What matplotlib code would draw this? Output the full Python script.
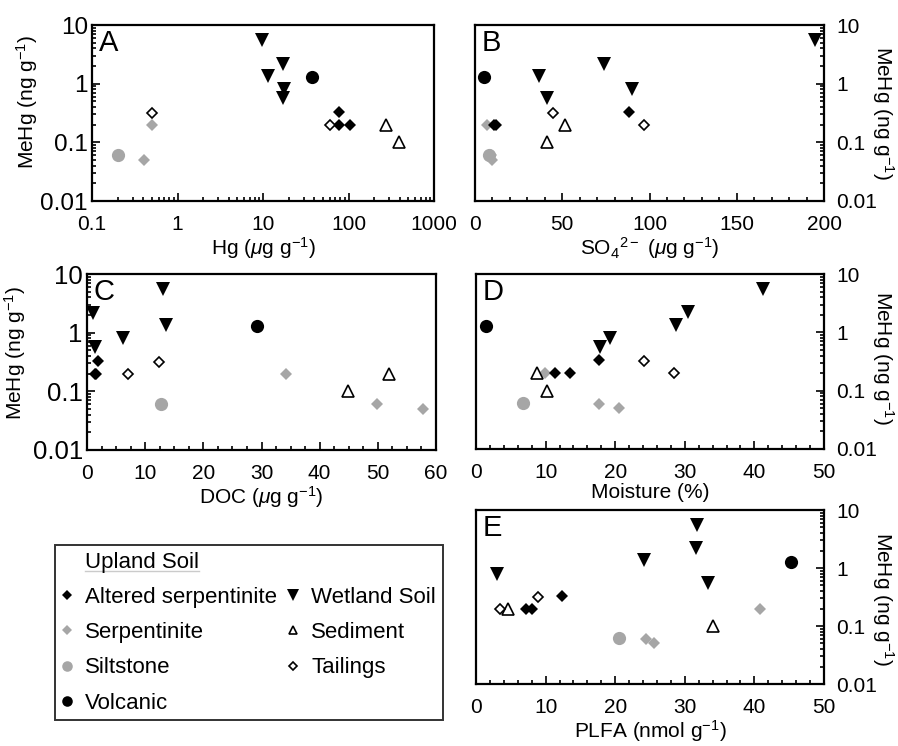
import matplotlib
matplotlib.use("Agg")
import matplotlib.pyplot as plt
from matplotlib.lines import Line2D
from matplotlib.ticker import LogLocator, NullFormatter, FixedLocator, FixedFormatter, MultipleLocator

plt.rcParams['font.family'] = ['Liberation Sans', 'DejaVu Sans']
plt.rcParams['mathtext.fontset'] = 'custom'
plt.rcParams['mathtext.rm'] = 'Liberation Sans'
plt.rcParams['mathtext.it'] = 'Liberation Sans:italic'
plt.rcParams['mathtext.bf'] = 'Liberation Sans:bold'

# ---- data (MeHg in ng/g; x variables per panel) ----
wet_mehg = [5.5, 2.2, 1.35, 0.8, 0.56]
wet_hg = [9.7, 17, 11.4, 17.8, 17]
wet_so4 = [195, 74, 36.7, 90, 41.5]
wet_doc = [13.0, 1.0, 13.6, 6.2, 1.4]
wet_moist = [41.3, 30.4, 28.7, 19.3, 17.8]
wet_plfa = [31.7, 31.6, 24.1, 3.0, 33.4]

vol_mehg = [1.28]
vol_hg = [37]
vol_so4 = [5.3]
vol_doc = [29.3]
vol_moist = [1.4]
vol_plfa = [45.3]

alt_mehg = [0.33, 0.2, 0.2]
alt_hg = [78, 78, 104]
alt_so4 = [88, 11.8, 11]
alt_doc = [1.9, 1.4, 1.6]
alt_moist = [17.7, 11.3, 13.5]
alt_plfa = [12.3, 7.2, 8.1]

tai_mehg = [0.32, 0.2]
tai_hg = [0.5, 61]
tai_so4 = [44.5, 97]
tai_doc = [12.3, 7.0]
tai_moist = [24.1, 28.4]
tai_plfa = [8.9, 3.4]

ser_mehg = [0.2, 0.06, 0.05]
ser_hg = [0.5, 0.2, 0.41]
ser_so4 = [6.7, 9.0, 9.5]
ser_doc = [34.2, 49.8, 57.7]
ser_moist = [9.9, 17.7, 20.5]
ser_plfa = [40.8, 24.4, 25.6]

sil_mehg = [0.061]
sil_hg = [0.2]
sil_so4 = [8.0]
sil_doc = [12.8]
sil_moist = [6.7]
sil_plfa = [20.5]

sed_mehg = [0.2, 0.1]
sed_hg = [275, 394]
sed_so4 = [51.8, 41.5]
sed_doc = [52, 44.8]
sed_moist = [8.8, 10.2]
sed_plfa = [4.6, 34.1]

y_ticks = [0.01, 0.1, 1, 10]
y_ticklabels = ['0.01', '0.1', '1', '10']
hg_ticks = [0.1, 1, 10, 100, 1000]
hg_ticklabels = ['0.1', '1', '10', '100', '1000']

GRAY = '#a6a6a6'
styles = {
    'ser': dict(marker='D', ms=6.2, mfc=GRAY, mec=GRAY, mew=0),
    'sil': dict(marker='o', ms=9.5, mfc=GRAY, mec=GRAY, mew=0),
    'alt': dict(marker='D', ms=6.2, mfc='black', mec='black', mew=0),
    'vol': dict(marker='o', ms=9.5, mfc='black', mec='black', mew=0),
    'wet': dict(marker='v', ms=10.5, mfc='black', mec='black', mew=0),
    'sed': dict(marker='^', ms=8, mfc='white', mec='black', mew=1.2),
    'tai': dict(marker='D', ms=5.6, mfc='white', mec='black', mew=1.2),
}

FS = 15
fig = plt.figure(figsize=(8.98, 7.46), dpi=100)

W, H = 898.0, 746.0
def add_ax(l, r, t, b):
    return fig.add_axes([l / W, 1 - b / H, (r - l) / W, (b - t) / H])

axA = add_ax(92, 434, 25, 201)
axB = add_ax(475, 824, 25, 201)
axC = add_ax(87, 436, 274, 450)
axD = add_ax(476, 824, 274, 449)
axE = add_ax(476, 824, 510, 684)

# (axis, letter, x key, x label, y side, y tick label size, ylabel x / y pos in axes coords)
panels = [
    (axA, 'A', 'hg', r'Hg ($\mu$g g$^{-1}$)', 'left', 17.5, -0.19, 0.56),
    (axB, 'B', 'so4', r'SO$_4{}^{2-}$ ($\mu$g g$^{-1}$)', 'right', FS, 1.17, 0.5),
    (axC, 'C', 'doc', r'DOC ($\mu$g g$^{-1}$)', 'left', 18.5, -0.205, 0.55),
    (axD, 'D', 'moist', 'Moisture (%)', 'right', FS, 1.17, 0.52),
    (axE, 'E', 'plfa', r'PLFA (nmol g$^{-1}$)', 'right', FS, 1.17, 0.49),
]

groups = [
    ('ser', ser_mehg, dict(hg=ser_hg, so4=ser_so4, doc=ser_doc, moist=ser_moist, plfa=ser_plfa)),
    ('sil', sil_mehg, dict(hg=sil_hg, so4=sil_so4, doc=sil_doc, moist=sil_moist, plfa=sil_plfa)),
    ('sed', sed_mehg, dict(hg=sed_hg, so4=sed_so4, doc=sed_doc, moist=sed_moist, plfa=sed_plfa)),
    ('alt', alt_mehg, dict(hg=alt_hg, so4=alt_so4, doc=alt_doc, moist=alt_moist, plfa=alt_plfa)),
    ('vol', vol_mehg, dict(hg=vol_hg, so4=vol_so4, doc=vol_doc, moist=vol_moist, plfa=vol_plfa)),
    ('wet', wet_mehg, dict(hg=wet_hg, so4=wet_so4, doc=wet_doc, moist=wet_moist, plfa=wet_plfa)),
    ('tai', tai_mehg, dict(hg=tai_hg, so4=tai_so4, doc=tai_doc, moist=tai_moist, plfa=tai_plfa)),
]

xcfg = {
    'hg': dict(lim=(0.1, 1000)),
    'so4': dict(lim=(0, 200), major=50, minor=10),
    'doc': dict(lim=(0, 60), major=10, minor=2.5),
    'moist': dict(lim=(0, 50), major=10, minor=2),
    'plfa': dict(lim=(0, 50), major=10, minor=2),
}

for ax, letter, key, xlabel, yside, ytfs, ylx, yly in panels:
    for name, yv, xd in groups:
        ax.plot(xd[key], yv, linestyle='none', clip_on=False, zorder=3, **styles[name])
    ax.set_yscale('log')
    ax.set_ylim(0.01, 10)
    ax.yaxis.set_major_locator(FixedLocator(y_ticks))
    ax.yaxis.set_major_formatter(FixedFormatter(y_ticklabels))
    ax.yaxis.set_minor_locator(LogLocator(base=10, subs=range(2, 10)))
    ax.yaxis.set_minor_formatter(NullFormatter())
    cfg = xcfg[key]
    ax.set_xlim(*cfg['lim'])
    if key == 'hg':
        ax.set_xscale('log')
        ax.xaxis.set_major_locator(FixedLocator(hg_ticks))
        ax.xaxis.set_major_formatter(FixedFormatter(hg_ticklabels))
        ax.xaxis.set_minor_locator(LogLocator(base=10, subs=range(2, 10)))
        ax.xaxis.set_minor_formatter(NullFormatter())
    else:
        ax.xaxis.set_major_locator(MultipleLocator(cfg['major']))
        ax.xaxis.set_minor_locator(MultipleLocator(cfg['minor']))
    for s in ax.spines.values():
        s.set_linewidth(1.6)
    ax.tick_params(which='both', direction='in', labelsize=FS, width=1.2)
    ax.tick_params(which='major', length=6)
    ax.tick_params(which='minor', length=3)
    ax.tick_params(axis='x', which='both', top=False, pad=10)
    if yside == 'left':
        ax.tick_params(axis='y', which='both', right=False, left=True, pad=3, labelsize=ytfs)
        ax.set_ylabel(r'MeHg (ng g$^{-1}$)', fontsize=FS, rotation=90, ha='center', va='center')
    else:
        ax.yaxis.tick_right()
        ax.yaxis.set_label_position('right')
        ax.tick_params(axis='y', which='both', left=False, right=True, pad=9, labelsize=ytfs)
        ax.set_ylabel(r'MeHg (ng g$^{-1}$)', fontsize=FS, rotation=270, ha='center', va='center')
    ax.yaxis.set_label_coords(ylx, yly)
    ax.set_xlabel(xlabel, fontsize=FS, labelpad=1)
    ax.text(0.02, 0.975, letter, transform=ax.transAxes, fontsize=21, va='top', ha='left')

# ---- legend ----
blank = Line2D([], [], linestyle='none', marker=None)
def h(name):
    return Line2D([], [], linestyle='none', **styles[name])
leg_handles = [blank, h('alt'), h('ser'), h('sil'), h('vol'),
               blank, h('wet'), h('sed'), h('tai'), blank]
leg_labels = ['Upland Soil', 'Altered serpentinite', 'Serpentinite', 'Siltstone', 'Volcanic',
              '', 'Wetland Soil', 'Sediment', 'Tailings', '']
leg = fig.legend(leg_handles, leg_labels, ncol=2, loc='upper left',
                 bbox_to_anchor=(55 / W, 1 - 545 / H), bbox_transform=fig.transFigure,
                 fontsize=16, frameon=True, fancybox=False, borderaxespad=0,
                 handlelength=0.45, handletextpad=0.6, columnspacing=0.5,
                 labelspacing=0.64, borderpad=0.3, markerscale=0.8)
leg.get_frame().set_edgecolor('black')
leg.get_frame().set_linewidth(1.4)

fig.canvas.draw()
t = leg.get_texts()[0]
bb = t.get_window_extent()
inv = fig.transFigure.inverted()
(x0, y0) = inv.transform((bb.x0, bb.y0 + 2))
(x1, _) = inv.transform((bb.x1, bb.y0 + 2))
fig.add_artist(Line2D([x0, x1], [y0, y0], transform=fig.transFigure, color='black', lw=1.0))

fig.savefig('out.png', dpi=100)
